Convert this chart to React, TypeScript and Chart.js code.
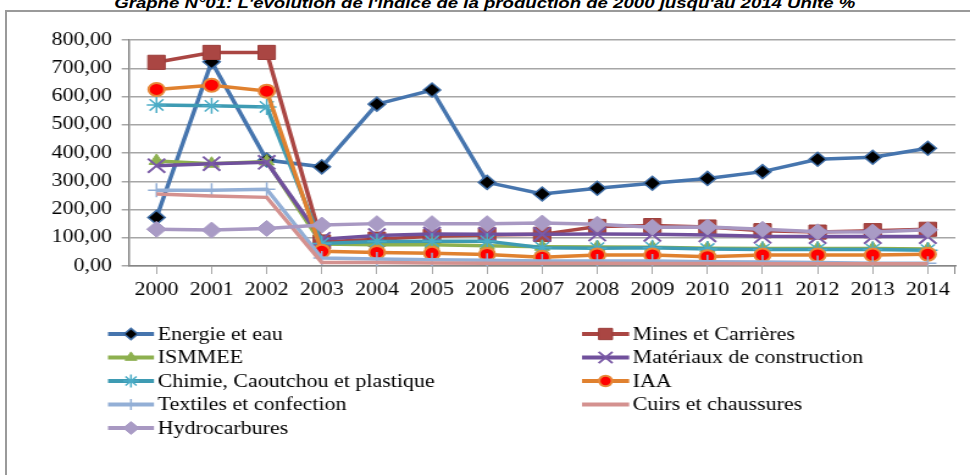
import React, { useEffect, useRef } from 'react';
import { Chart, registerables } from 'chart.js';
import { drawPoint } from 'chart.js/helpers';

Chart.register(...registerables);

// ---- data ----
const years = ['2000', '2001', '2002', '2003', '2004', '2005', '2006', '2007', '2008', '2009', '2010', '2011', '2012', '2013', '2014'];

const energieEtEau = [172, 723, 375, 351, 573, 623, 296, 255, 275, 293, 310, 334, 378, 385, 417];
const minesEtCarrieres = [721, 756, 756, 85, 95, 105, 110, 112, 140, 143, 138, 125, 120, 125, 130];
const ismmee = [372, 362, 370, 78, 75, 75, 72, 68, 67, 66, 63, 62, 62, 62, 60];
const materiauxConstruction = [355, 362, 367, 95, 108, 113, 112, 112, 113, 112, 110, 105, 104, 104, 104];
const chimieCaoutchouPlastique = [570, 567, 563, 80, 87, 88, 88, 65, 63, 65, 60, 58, 58, 58, 56];
const iaa = [625, 640, 619, 52, 48, 45, 41, 31, 39, 39, 33, 39, 39, 39, 42];
const textilesConfection = [268, 268, 272, 28, 25, 22, 20, 18, 18, 18, 15, 14, 12, 10, 10];
const cuirsChaussures = [255, 248, 243, 12, 12, 11, 10, 10, 10, 9, 9, 8, 8, 8, 8];
const hydrocarbures = [130, 127, 133, 145, 150, 150, 150, 152, 148, 137, 138, 130, 121, 120, 128];

const seriesLabels = [
  'Energie et eau',
  'Mines et Carrières',
  'ISMMEE',
  'Matériaux de construction',
  'Chimie, Caoutchou et plastique',
  'IAA',
  'Textiles et confection',
  'Cuirs et chaussures',
  'Hydrocarbures',
];

const yMin = 0;
const yMax = 800;
const yStep = 100;

const titleText = "Graphe N°01: L'évolution de l'indice de la production de 2000 jusqu'au 2014 Unité %";

// ---- layout (canvas is drawn narrower and stretched horizontally like the source) ----
const W = 795;
const H = 475;
const SX = 970 / W;

const FONT = "'Liberation Serif', 'Times New Roman', serif";

export default function App() {
  const ref = useRef<HTMLCanvasElement>(null);

  useEffect(() => {
    const canvas = ref.current;
    if (!canvas) return;

    const styles = [
      { color: '#4675AE', ps: 'rectRot', r: 7, bg: '#000000', bc: '#3F6DA5', bw: 1.5 },
      { color: '#AA4643', ps: 'rect', r: 10, bg: '#AA4643', bc: '#9B3D3A', bw: 1 },
      { color: '#8DB04F', ps: 'triangle', r: 7, bg: '#8DB04F', bc: '#8DB04F', bw: 1 },
      { color: '#70509C', ps: 'crossRot', r: 10, bg: 'rgba(0,0,0,0)', bc: '#7A5AA6', bw: 2 },
      { color: '#3E9BB3', ps: 'star', r: 8, bg: 'rgba(0,0,0,0)', bc: '#4BACC6', bw: 1.5 },
      { color: '#E0812F', ps: 'circle', r: 6.5, bg: '#FF0000', bc: '#E8883A', bw: 2 },
      { color: '#93AFD6', ps: 'cross', r: 7, bg: 'rgba(0,0,0,0)', bc: '#93AFD6', bw: 1.5 },
      { color: '#D4918F', ps: 'circle', r: 0, bg: '#D4918F', bc: '#D4918F', bw: 0 },
      { color: '#A898C2', ps: 'rectRot', r: 8, bg: '#A99BC5', bc: '#A99BC5', bw: 1 },
    ];
    const values = [
      energieEtEau,
      minesEtCarrieres,
      ismmee,
      materiauxConstruction,
      chimieCaoutchouPlastique,
      iaa,
      textilesConfection,
      cuirsChaussures,
      hydrocarbures,
    ];

    const datasets = values.map((d, i) => ({
      label: seriesLabels[i],
      data: d,
      borderColor: styles[i].color,
      backgroundColor: styles[i].color,
      borderWidth: 3.5,
      pointStyle: styles[i].ps,
      pointRadius: styles[i].r,
      pointBackgroundColor: styles[i].bg,
      pointBorderColor: styles[i].bc,
      pointBorderWidth: styles[i].bw,
      tension: 0,
      fill: false,
      order: values.length - 1 - i,
    }));

    const legendPlugin = {
      id: 'twoColLegend',
      afterDraw(chart: any) {
        const ctx = chart.ctx as CanvasRenderingContext2D;
        ctx.save();
        // closing tick at the right end of the category axis
        const area = chart.chartArea;
        ctx.strokeStyle = '#868686';
        ctx.lineWidth = 1;
        ctx.beginPath();
        ctx.moveTo(area.right - 0.5, area.bottom);
        ctx.lineTo(area.right - 0.5, area.bottom + 8);
        ctx.stroke();

        chart.data.datasets.forEach((ds: any, i: number) => {
          const col = i % 2;
          const row = Math.floor(i / 2);
          const y = 334 + row * 23.5;
          const x0 = col === 0 ? 88.5 : 477;
          const x1 = col === 0 ? 126.2 : 515.6;
          ctx.strokeStyle = ds.borderColor;
          ctx.lineWidth = 4;
          ctx.lineCap = 'butt';
          ctx.beginPath();
          ctx.moveTo(x0, y);
          ctx.lineTo(x1, y);
          ctx.stroke();
          if (ds.pointRadius > 0) {
            ctx.fillStyle = ds.pointBackgroundColor;
            ctx.strokeStyle = ds.pointBorderColor;
            ctx.lineWidth = ds.pointBorderWidth;
            drawPoint(ctx, { pointStyle: ds.pointStyle, radius: ds.pointRadius * 0.8, rotation: 0, borderWidth: ds.pointBorderWidth } as any, (x0 + x1) / 2, y);
          }
          ctx.fillStyle = '#000';
          ctx.font = `18px ${FONT}`;
          ctx.textBaseline = 'middle';
          ctx.textAlign = 'left';
          ctx.fillText(ds.label, x1 + 3, y + 1);
        });
        ctx.restore();
      },
    };

    const chart = new Chart(canvas, {
      type: 'line',
      data: { labels: years, datasets: datasets as any },
      options: {
        responsive: false,
        animation: false,
        devicePixelRatio: 1,
        layout: { padding: { top: 40, right: 9.8, left: 0, bottom: 0 } },
        plugins: {
          legend: { display: false },
          tooltip: { enabled: false },
          title: { display: false },
        },
        scales: {
          x: {
            offset: true,
            grid: {
              display: true,
              drawOnChartArea: false,
              drawTicks: true,
              tickLength: 8,
              offset: false,
              color: '#a8a8a8',
              lineWidth: 1,
            },
            border: { display: true, color: '#868686', width: 1.5 },
            ticks: {
              font: { family: FONT, size: 18 },
              color: '#000',
              padding: 5,
              maxRotation: 0,
              autoSkip: false,
            },
            afterFit: (s: any) => {
              s.height = H - 266;
            },
          },
          y: {
            min: yMin,
            max: yMax,
            ticks: {
              stepSize: yStep,
              font: { family: FONT, size: 18 },
              color: '#000',
              padding: 8,
              callback: (v: any) => Number(v).toFixed(2).replace('.', ','),
            },
            grid: { color: '#a6a6a6', lineWidth: 1.5, tickLength: 6, drawTicks: true },
            border: { display: true, color: '#868686', width: 1.5 },
            afterFit: (s: any) => {
              s.width = 105.7;
            },
          },
        },
      } as any,
      plugins: [legendPlugin],
    });

    return () => chart.destroy();
  }, []);

  return (
    <div style={{ position: 'fixed', left: 0, top: 0, width: 970, height: 475, overflow: 'hidden', background: '#fff' }}>
      <div
        style={{
          position: 'absolute',
          left: 5,
          top: 10,
          width: 1100,
          height: 1000,
          border: '2px solid #9a9a9a',
          boxSizing: 'border-box',
        }}
      />
      <div
        style={{
          position: 'absolute',
          left: 0,
          top: -5,
          width: 970,
          textAlign: 'center',
          font: "italic bold 15px 'Liberation Sans', Arial, sans-serif",
          lineHeight: '15px',
          color: '#000',
          whiteSpace: 'nowrap',
          transform: 'scaleX(1.24)',
          transformOrigin: '486px 0',
        }}
      >
        {titleText}
      </div>
      <canvas
        ref={ref}
        width={W}
        height={H}
        style={{
          position: 'absolute',
          left: 0,
          top: 0,
          width: W,
          height: H,
          transform: `scaleX(${SX})`,
          transformOrigin: '0 0',
        }}
      />
    </div>
  );
}
